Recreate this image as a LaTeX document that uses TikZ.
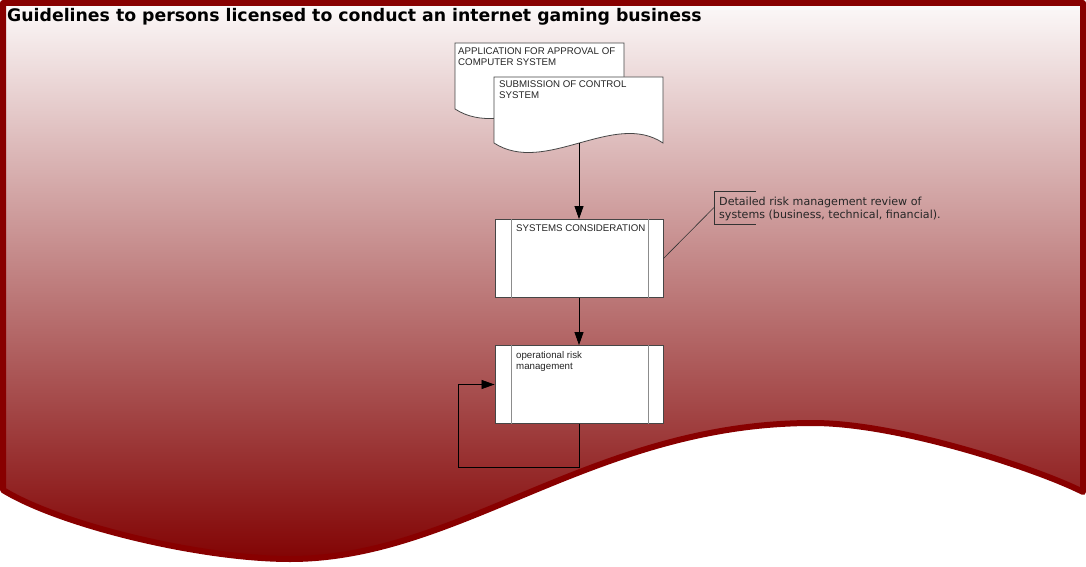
\documentclass[tikz,border=0pt]{standalone}
\usepackage{fontspec}
\usetikzlibrary{arrows.meta}
\newfontfamily\headfont{DejaVu Sans}
\newfontfamily\labelfont{Liberation Sans}
\newfontfamily\notefont{DejaVu Sans}
\definecolor{bannerred}{RGB}{136,0,0}
\definecolor{bannertop}{RGB}{252,249,249}
\definecolor{bannerbottom}{RGB}{130,4,4}
\definecolor{outline}{RGB}{70,70,70}
\definecolor{innerline}{RGB}{140,140,140}

\tikzset{
  banner/.style={draw=bannerred, line width=6pt, line join=round,
    top color=bannertop, bottom color=bannerbottom},
  sheet/.style={draw=outline, line width=0.8pt, fill=white},
  procbox/.style={draw=outline, line width=0.9pt, fill=white,
    minimum width=168pt, minimum height=78pt, inner sep=0pt},
  procedge/.style={innerline, line width=1.3pt},
  boxlabel/.style={anchor=north west, inner sep=0pt, align=left,
    font=\labelfont\fontsize{9.7}{11}\selectfont, text=black!85},
  notelabel/.style={anchor=north west, inner sep=0pt, align=left,
    font=\notefont\fontsize{11.1}{13.3}\selectfont, text=black!85},
  flow/.style={draw=black, line width=0.8pt, -{Triangle[length=13pt,width=9pt]}},
  noteline/.style={draw=black!80, line width=0.6pt},
  pics/docsheet/.style={code={
    \path[sheet] (0,0) -- (169,0) -- (169,66)
      .. controls (120,33) and (51,99) .. (0,66) -- cycle;
  }},
}

\begin{document}
\begin{tikzpicture}[x=1pt, y=-1pt]
\useasboundingbox (0,0) rectangle (1086,567);

% banner with wavy lower edge
\path[banner] (3,3) -- (1083,3) -- (1083,492)
  .. controls (1040,470) and (900,423) .. (813,423)
  .. controls (593,423) and (460,559) .. (290,559)
  .. controls (200,559) and (60,525) .. (3,490) -- cycle;

\node[anchor=base west, inner sep=0pt, font=\headfont\bfseries\fontsize{17.3}{19}\selectfont]
  (title) at (7,22) {Guidelines to persons licensed to conduct an internet gaming business};

% input documents
\pic at (455,43) {docsheet};
\node[boxlabel] (appdoc) at (458,48) {APPLICATION FOR APPROVAL OF\\COMPUTER SYSTEM};
\pic at (494,77) {docsheet};
\node[boxlabel] (submdoc) at (499,81) {SUBMISSION OF CONTROL\\SYSTEM};
\coordinate (submout) at (579,143);

% predefined processes
\node[procbox] (sys) at (579,258.5) {};
\draw[procedge] ([xshift=16.7pt]sys.north west) -- ([xshift=16.7pt]sys.south west);
\draw[procedge] ([xshift=-14.7pt]sys.north east) -- ([xshift=-14.7pt]sys.south east);
\node[boxlabel] (syslabel) at (516,225) {SYSTEMS CONSIDERATION};

\node[procbox] (ops) at (579,384.5) {};
\draw[procedge] ([xshift=16.7pt]ops.north west) -- ([xshift=16.7pt]ops.south west);
\draw[procedge] ([xshift=-14.7pt]ops.north east) -- ([xshift=-14.7pt]ops.south east);
\node[boxlabel] (opslabel) at (516,351.5) {operational risk\\management};

% flow
\draw[flow] (submout) -- (sys.north);
\draw[flow] (sys.south) -- (ops.north);
\draw[flow] (ops.south) -- ++(0,43) -| ([xshift=-36pt]ops.west) -- (ops.west);

% annotation
\node[notelabel] (note) at (719,197) {Detailed risk management review of\\systems (business, technical, financial).};
\draw[noteline] (756,191) -- (714,191) -- (714,224) -- (756,224);
\coordinate (notetab) at (714,207.5);
\draw[noteline] (sys.east) -- (notetab);
\end{tikzpicture}
\end{document}
